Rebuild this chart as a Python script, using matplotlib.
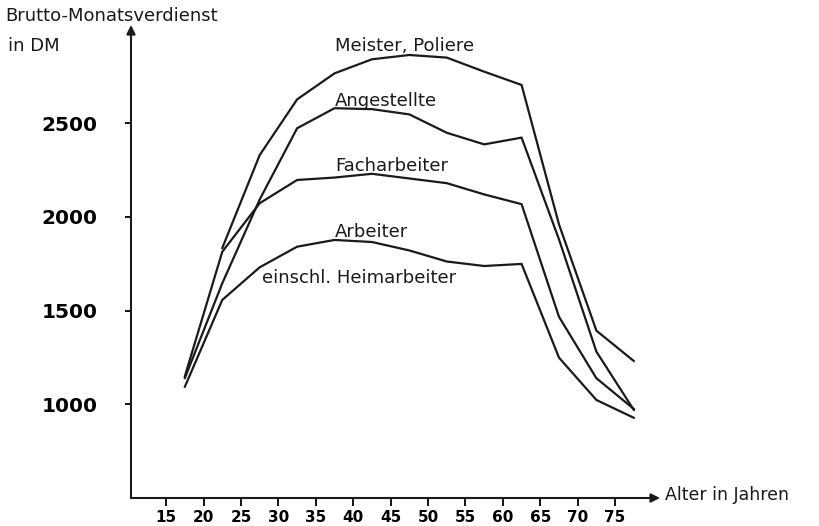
#! /usr/bin/env python3

import matplotlib
matplotlib.use("Agg")
import matplotlib.pyplot as plt
import numpy

"""
Données lues sur le graphique (milieux des classes d'âge).
"""

alter = [17.5, 22.5, 27.5, 32.5, 37.5, 42.5, 47.5, 52.5, 57.5, 62.5, 67.5, 72.5, 77.5]

meister      = [numpy.nan, 1834, 2330, 2627, 2766, 2841, 2864, 2850, 2775, 2704, 1960, 1393, 1231]
angestellte  = [1140, 1646, 2093, 2473, 2580, 2575, 2547, 2449, 2387, 2423, 1880, 1281, 970]
facharbeiter = [1150, 1814, 2073, 2197, 2210, 2230, 2205, 2180, 2120, 2068, 1467, 1139, 975]
arbeiter     = [1094, 1557, 1731, 1841, 1877, 1866, 1821, 1762, 1738, 1749, 1249, 1023, 928]

x_ticks = [15, 20, 25, 30, 35, 40, 45, 50, 55, 60, 65, 70, 75]
y_ticks = [1000, 1500, 2000, 2500]

"""
Figure.
"""

fig = plt.figure(figsize = (8.19, 5.26), dpi = 100)
ax = fig.add_axes([131 / 819, 1 - 498 / 526, (660 - 131) / 819, (498 - 25) / 526])

for serie in (meister, angestellte, facharbeiter, arbeiter):
    ax.plot(alter, serie, color = "#1a1a1a", lw = 1.6, solid_joinstyle = "miter")

ax.set_xlim(10.3, 81.0)
ax.set_ylim(500, 3024)

for side in ("top", "right", "left", "bottom"):
    ax.spines[side].set_visible(False)

arrow = dict(arrowstyle = "-|>", color = "#1a1a1a", lw = 1.5,
             shrinkA = 0, shrinkB = 0, mutation_scale = 13)
ax.annotate("", xy = (1, 0), xytext = (0, 0), xycoords = "axes fraction", arrowprops = arrow)
ax.annotate("", xy = (0, 1), xytext = (0, 0), xycoords = "axes fraction", arrowprops = arrow)

ax.set_xticks(x_ticks)
ax.set_yticks(y_ticks)
ax.tick_params(axis = "x", direction = "out", length = 6, width = 1.3, pad = 3,
               labelsize = 11)
ax.tick_params(axis = "y", direction = "out", length = 4, width = 1.3, pad = 20,
               labelsize = 14.5)
for lab in ax.get_xticklabels() + ax.get_yticklabels():
    lab.set_fontweight("bold")

"""
Beschriftungen.
"""

style = dict(fontsize = 13, color = "#1a1a1a", ha = "left", va = "center")
ax.text(37.6, 2912, "Meister, Poliere", **style)
ax.text(37.6, 2618, "Angestellte", **style)
ax.text(37.6, 2272, "Facharbeiter", **style)
ax.text(37.6, 1920, "Arbeiter", **style)
ax.text(27.8, 1675, "einschl. Heimarbeiter", **style)

fig.text(5 / 819, 1 - 16 / 526, "Brutto-Monatsverdienst", fontsize = 13,
         color = "#1a1a1a", ha = "left", va = "center")
fig.text(8 / 819, 1 - 46 / 526, "in DM", fontsize = 13,
         color = "#1a1a1a", ha = "left", va = "center")
fig.text(665 / 819, 1 - 495 / 526, "Alter in Jahren", fontsize = 12.5,
         color = "#1a1a1a", ha = "left", va = "center")

fig.savefig("out.png", dpi = 100)
